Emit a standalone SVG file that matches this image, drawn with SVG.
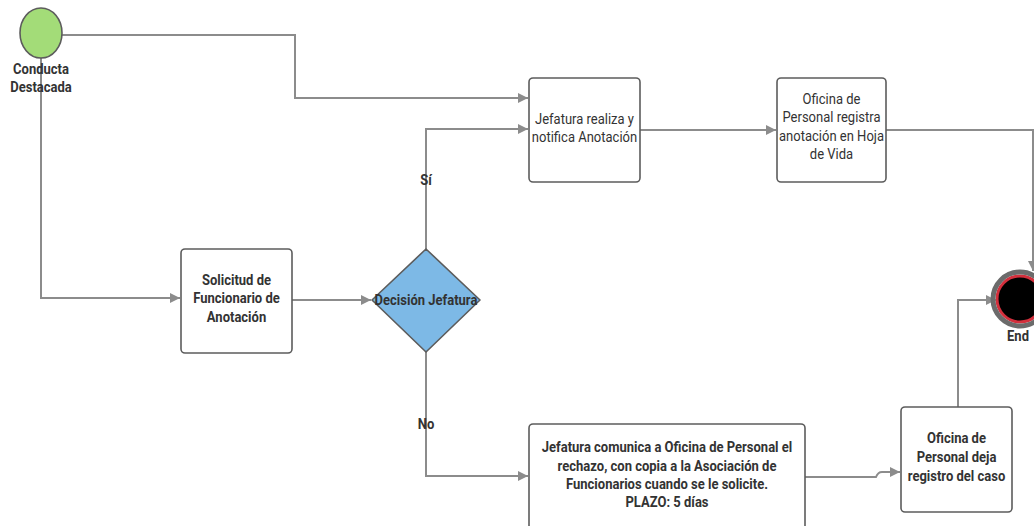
<svg xmlns="http://www.w3.org/2000/svg" width="1034" height="526" viewBox="0 0 1034 526">
<defs>
<marker id="arr" viewBox="0 0 10 10" refX="10" refY="5" markerWidth="10" markerHeight="10" markerUnits="userSpaceOnUse" orient="auto">
<path d="M0,0 L10,5 L0,10 z" fill="#8c8c8c"/>
</marker>
<style>
.ln{fill:none;stroke:#8c8c8c;stroke-width:2;}
.box{fill:#fff;stroke:#5c5c5c;stroke-width:1.6;}
.t{font-family:Roboto,"Liberation Sans",sans-serif;font-size:14px;fill:#333;text-anchor:middle;}
.b{font-weight:bold;}
</style>
</defs>
<rect width="1034" height="526" fill="#fff"/>
<g id="connectors">
<path class="ln" d="M62,35 H295 V98 H528" marker-end="url(#arr)"/>
<path class="ln" d="M41,58 V298 H180" marker-end="url(#arr)"/>
<path class="ln" d="M292,300 H371" marker-end="url(#arr)"/>
<path class="ln" d="M426,249 V129 H528" marker-end="url(#arr)"/>
<path class="ln" d="M426,352 V476 H528" marker-end="url(#arr)"/>
<path class="ln" d="M640,130 H776" marker-end="url(#arr)"/>
<path class="ln" d="M886,130 H1033 V271" marker-end="url(#arr)"/>
<path class="ln" d="M805,477 H876 Q878,472 882,472 H900" marker-end="url(#arr)"/>
<path class="ln" d="M958,407 V300 H996" marker-end="url(#arr)"/>
<g transform="translate(426,0) scale(0.93,1)"><text class="t b" x="0" y="185">Sí</text></g>
<g transform="translate(426,0) scale(0.93,1)"><text class="t b" x="0" y="429">No</text></g>
</g>
<g id="start">
<ellipse cx="41" cy="33" rx="21" ry="25" fill="#a3dc78" stroke="#5c5c5c" stroke-width="1.6"/>
<g transform="translate(41,0) scale(0.93,1)"><text class="t b" x="0" y="74">Conducta</text><text class="t b" x="0" y="92">Destacada</text></g>
</g>
<g id="solicitud">
<rect class="box" x="181" y="249" width="111" height="104" rx="4"/>
<g transform="translate(236.5,0) scale(0.93,1)"><text class="t b" x="0" y="285">Solicitud de</text><text class="t b" x="0" y="303">Funcionario de</text><text class="t b" x="0" y="322">Anotación</text></g>
</g>
<g id="decision">
<path d="M426,249 L480,300 L426,352 L372,300 Z" fill="#7db9e6" stroke="#5c5c5c" stroke-width="1.6" stroke-linejoin="round"/>
<g transform="translate(426,0) scale(0.93,1)"><text class="t b" x="0" y="305">Decisión Jefatura</text></g>
</g>
<g id="realiza">
<rect class="box" x="529" y="78" width="111" height="104" rx="4"/>
<g transform="translate(584.5,0) scale(0.93,1)"><text class="t" x="0" y="124">Jefatura realiza y</text><text class="t" x="0" y="142">notifica Anotación</text></g>
</g>
<g id="registra">
<rect class="box" x="777" y="78" width="109" height="104" rx="4"/>
<g transform="translate(831.5,0) scale(0.93,1)"><text class="t" x="0" y="104">Oficina de</text><text class="t" x="0" y="122">Personal registra</text><text class="t" x="0" y="141">anotación en Hoja</text><text class="t" x="0" y="159">de Vida</text></g>
</g>
<g id="comunica">
<rect class="box" x="529" y="424" width="276" height="110" rx="4"/>
<g transform="translate(667,0) scale(0.93,1)"><text class="t b" x="0" y="452">Jefatura comunica a Oficina de Personal el</text><text class="t b" x="0" y="471">rechazo, con copia a la Asociación de</text><text class="t b" x="0" y="489">Funcionarios cuando se le solicite.</text><text class="t b" x="0" y="507">PLAZO: 5 días</text></g>
</g>
<g id="deja">
<rect class="box" x="901" y="407" width="111" height="105" rx="4"/>
<g transform="translate(956.5,0) scale(0.93,1)"><text class="t b" x="0" y="443">Oficina de</text><text class="t b" x="0" y="462">Personal deja</text><text class="t b" x="0" y="481">registro del caso</text></g>
</g>
<g id="end">
<circle cx="1020" cy="299" r="23" fill="#000" stroke="#d32f3c" stroke-width="3"/>
<circle cx="1020" cy="299" r="27" fill="none" stroke="#6b6b6b" stroke-width="5"/>
<g transform="translate(1018,0) scale(0.93,1)"><text class="t b" x="0" y="341">End</text></g>
</g>
</svg>
